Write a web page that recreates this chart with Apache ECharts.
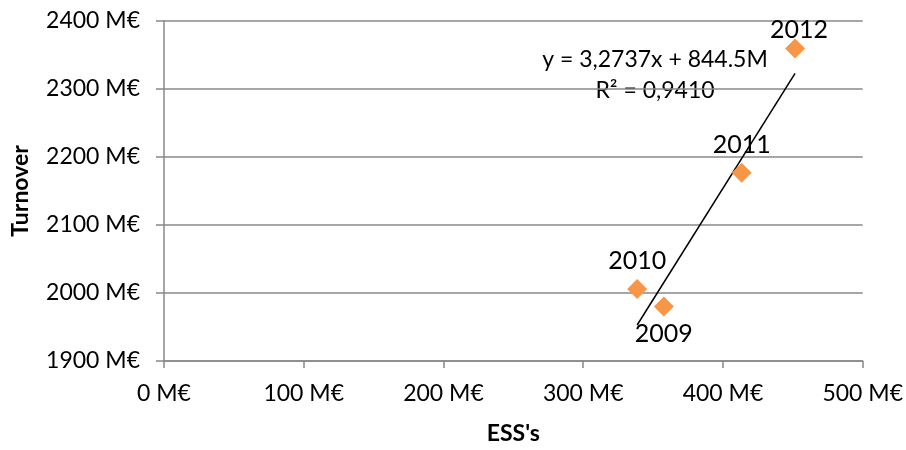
<!DOCTYPE html>
<html>
<head>
<meta charset="utf-8">
<script src="https://cdn.jsdelivr.net/npm/echarts@6/dist/echarts.min.js"></script>
<style>
  html, body { margin: 0; padding: 0; background: #fff; }
  #chart { width: 906px; height: 450px; }
</style>
</head>
<body>
<div id="chart"></div>
<script>
// ESS's vs turnover, both in M€
const years = ['2009', '2010', '2011', '2012'];
const essValues = [357.7, 338.6, 413.4, 451.6];
const turnoverValues = [1980, 2006, 2177, 2359.4];
const yearLabelPosition = ['bottom', 'top', 'top', 'top'];

// linear trend as stated in its label
const trendSlope = 3.2737;
const trendIntercept = 844.5;
const trendText = ['y = 3,2737x + 844.5M', 'R² = 0,9410'];

const xTicks = { min: 0, max: 500, interval: 100 };
const yTicks = { min: 1900, max: 2400, interval: 100 };

const FONT = 'Lato';
const moneyLabel = v => v + ' M€';

const points = years.map((y, i) => {
  const item = {
    value: [essValues[i], turnoverValues[i]],
    name: y,
    label: { position: yearLabelPosition[i] }
  };
  // the last year's label sits a little lower, just under the top gridline
  if (i === years.length - 1) {
    item.label.distance = -4;
    item.label.offset = [4, 0];
  }
  return item;
});

const xMin = Math.min(...essValues);
const xMax = Math.max(...essValues);
const trendLine = [xMin, xMax].map(x => [x, trendSlope * x + trendIntercept]);

const chart = echarts.init(document.getElementById('chart'), null, { renderer: 'canvas' });

chart.setOption({
  animation: false,
  backgroundColor: '#ffffff',
  grid: { left: 164, right: 43, top: 21, bottom: 87.5, containLabel: false },
  xAxis: {
    type: 'value',
    min: xTicks.min, max: xTicks.max, interval: xTicks.interval,
    name: "ESS's",
    nameLocation: 'middle',
    nameGap: 61,
    nameTextStyle: { fontFamily: FONT, fontWeight: 'bold', fontSize: 23, color: '#000' },
    axisLine: { show: true, lineStyle: { color: '#888', width: 1.5 } },
    axisTick: { show: true, length: 7, lineStyle: { color: '#888', width: 1.5 } },
    axisLabel: { formatter: moneyLabel, fontFamily: FONT, fontSize: 23, color: '#000', margin: 21 },
    splitLine: { show: false }
  },
  yAxis: {
    type: 'value',
    min: yTicks.min, max: yTicks.max, interval: yTicks.interval,
    name: 'Turnover',
    nameLocation: 'middle',
    nameRotate: 90,
    nameGap: 132,
    nameTextStyle: { fontFamily: FONT, fontWeight: 'bold', fontSize: 23, color: '#000' },
    axisLine: { show: true, lineStyle: { color: '#888', width: 1.5 } },
    axisTick: { show: true, length: 8, lineStyle: { color: '#888', width: 1.5 } },
    axisLabel: { formatter: moneyLabel, fontFamily: FONT, fontSize: 23, color: '#000', margin: 24 },
    splitLine: { show: true, lineStyle: { color: '#888', width: 1.5 } }
  },
  series: [
    {
      type: 'line',
      data: trendLine,
      symbol: 'none',
      lineStyle: { color: '#000', width: 1.5 },
      silent: true,
      z: 2
    },
    {
      type: 'scatter',
      data: points,
      symbol: 'diamond',
      symbolSize: 20,
      itemStyle: { color: '#F79646', opacity: 1 },
      label: {
        show: true,
        formatter: p => p.name,
        fontFamily: FONT,
        fontSize: 25,
        color: '#000',
        opacity: 1,
        distance: 5
      },
      z: 3
    }
  ],
  graphic: [
    {
      type: 'text',
      x: 655, y: 60,
      style: { text: trendText[0], font: '23px ' + FONT, fill: '#000', align: 'center', verticalAlign: 'middle' }
    },
    {
      type: 'text',
      x: 655, y: 91,
      style: { text: trendText[1], font: '23px ' + FONT, fill: '#000', align: 'center', verticalAlign: 'middle' }
    }
  ]
});
</script>
</body>
</html>
